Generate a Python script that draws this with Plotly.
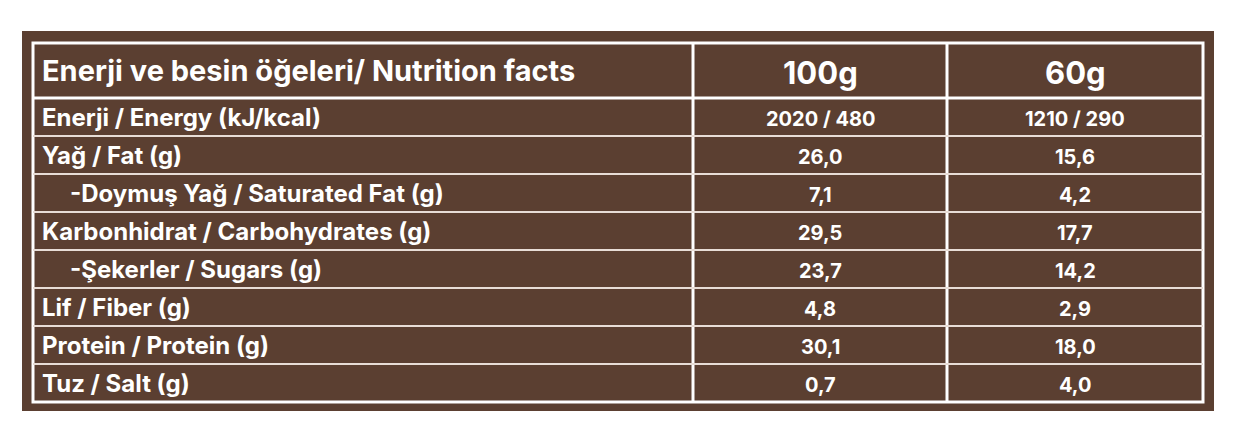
import plotly.graph_objects as go

header = ["Enerji ve besin öğeleri/ Nutrition facts", "100g", "60g"]
labels = ["Enerji / Energy (kJ/kcal)", "Yağ / Fat (g)", "  -Doymuş Yağ / Saturated Fat (g)",
          "Karbonhidrat / Carbohydrates (g)", "  -Şekerler / Sugars (g)", "Lif / Fiber (g)",
          "Protein / Protein (g)", "Tuz / Salt (g)"]
v100 = ["2020 / 480", "26,0", "7,1", "29,5", "23,7", "4,8", "30,1", "0,7"]
v60 = ["1210 / 290", "15,6", "4,2", "17,7", "14,2", "2,9", "18,0", "4,0"]

BROWN = "#5b3f31"
W, H = 1239, 444
OX, OY = 8, 8
L, R, T, B = 33 - OX, 1203 - OX, 43 - OY, 402 - OY
X1, X2 = 693 - OX, 947 - OX
HB = 98 - OY
rh = (B - HB) / len(labels)

fig = go.Figure()
shapes = [
    dict(type="rect", x0=22 - OX, x1=1214 - OX, y0=31 - OY, y1=411 - OY, fillcolor=BROWN, line_width=0, layer="below"),
    dict(type="rect", x0=L, x1=R, y0=T, y1=B, line=dict(color="white", width=3)),
    dict(type="line", x0=X1, x1=X1, y0=T, y1=B, line=dict(color="white", width=3)),
    dict(type="line", x0=X2, x1=X2, y0=T, y1=B, line=dict(color="white", width=3)),
    dict(type="line", x0=L, x1=R, y0=HB, y1=HB, line=dict(color="white", width=3)),
]
for i in range(1, len(labels)):
    y = HB + i * rh
    shapes.append(dict(type="line", x0=L, x1=R, y0=y, y1=y, line=dict(color="#e8ddd6", width=2)))

ann = []
font = "Inter"
hy = (T + HB) / 2
LX = 40 - OX
ann.append(dict(x=LX, y=hy, text=f"<b>{header[0]}</b>", xanchor="left", font=dict(size=29)))
ann.append(dict(x=(X1 + X2) / 2, y=hy + 2, text=f"<b>{header[1]}</b>", xanchor="center", font=dict(size=31)))
ann.append(dict(x=(X2 + R) / 2, y=hy + 2, text=f"<b>{header[2]}</b>", xanchor="center", font=dict(size=31)))
for i, (lab, a, b) in enumerate(zip(labels, v100, v60)):
    y = HB + (i + 0.5) * rh
    ann.append(dict(x=LX + (28 if lab.startswith("  ") else 0), y=y, text=f"<b>{lab.strip()}</b>", xanchor="left", font=dict(size=24)))
    ann.append(dict(x=(X1 + X2) / 2, y=y + 2, text=f"<b>{a}</b>", xanchor="center", font=dict(size=20)))
    ann.append(dict(x=(X2 + R) / 2, y=y + 2, text=f"<b>{b}</b>", xanchor="center", font=dict(size=20)))
for a in ann:
    a.update(xref="x", yref="y", showarrow=False, yanchor="middle")
    a["font"].update(color="white", family=font)

fig.update_layout(width=W, height=H, margin=dict(l=0, r=0, t=0, b=0),
                  paper_bgcolor="white", plot_bgcolor="white",
                  shapes=shapes, annotations=ann,
                  xaxis=dict(range=[0, W], visible=False, fixedrange=True),
                  yaxis=dict(range=[H, 0], visible=False, fixedrange=True),
                  showlegend=False)
fig.write_html("out.html")
